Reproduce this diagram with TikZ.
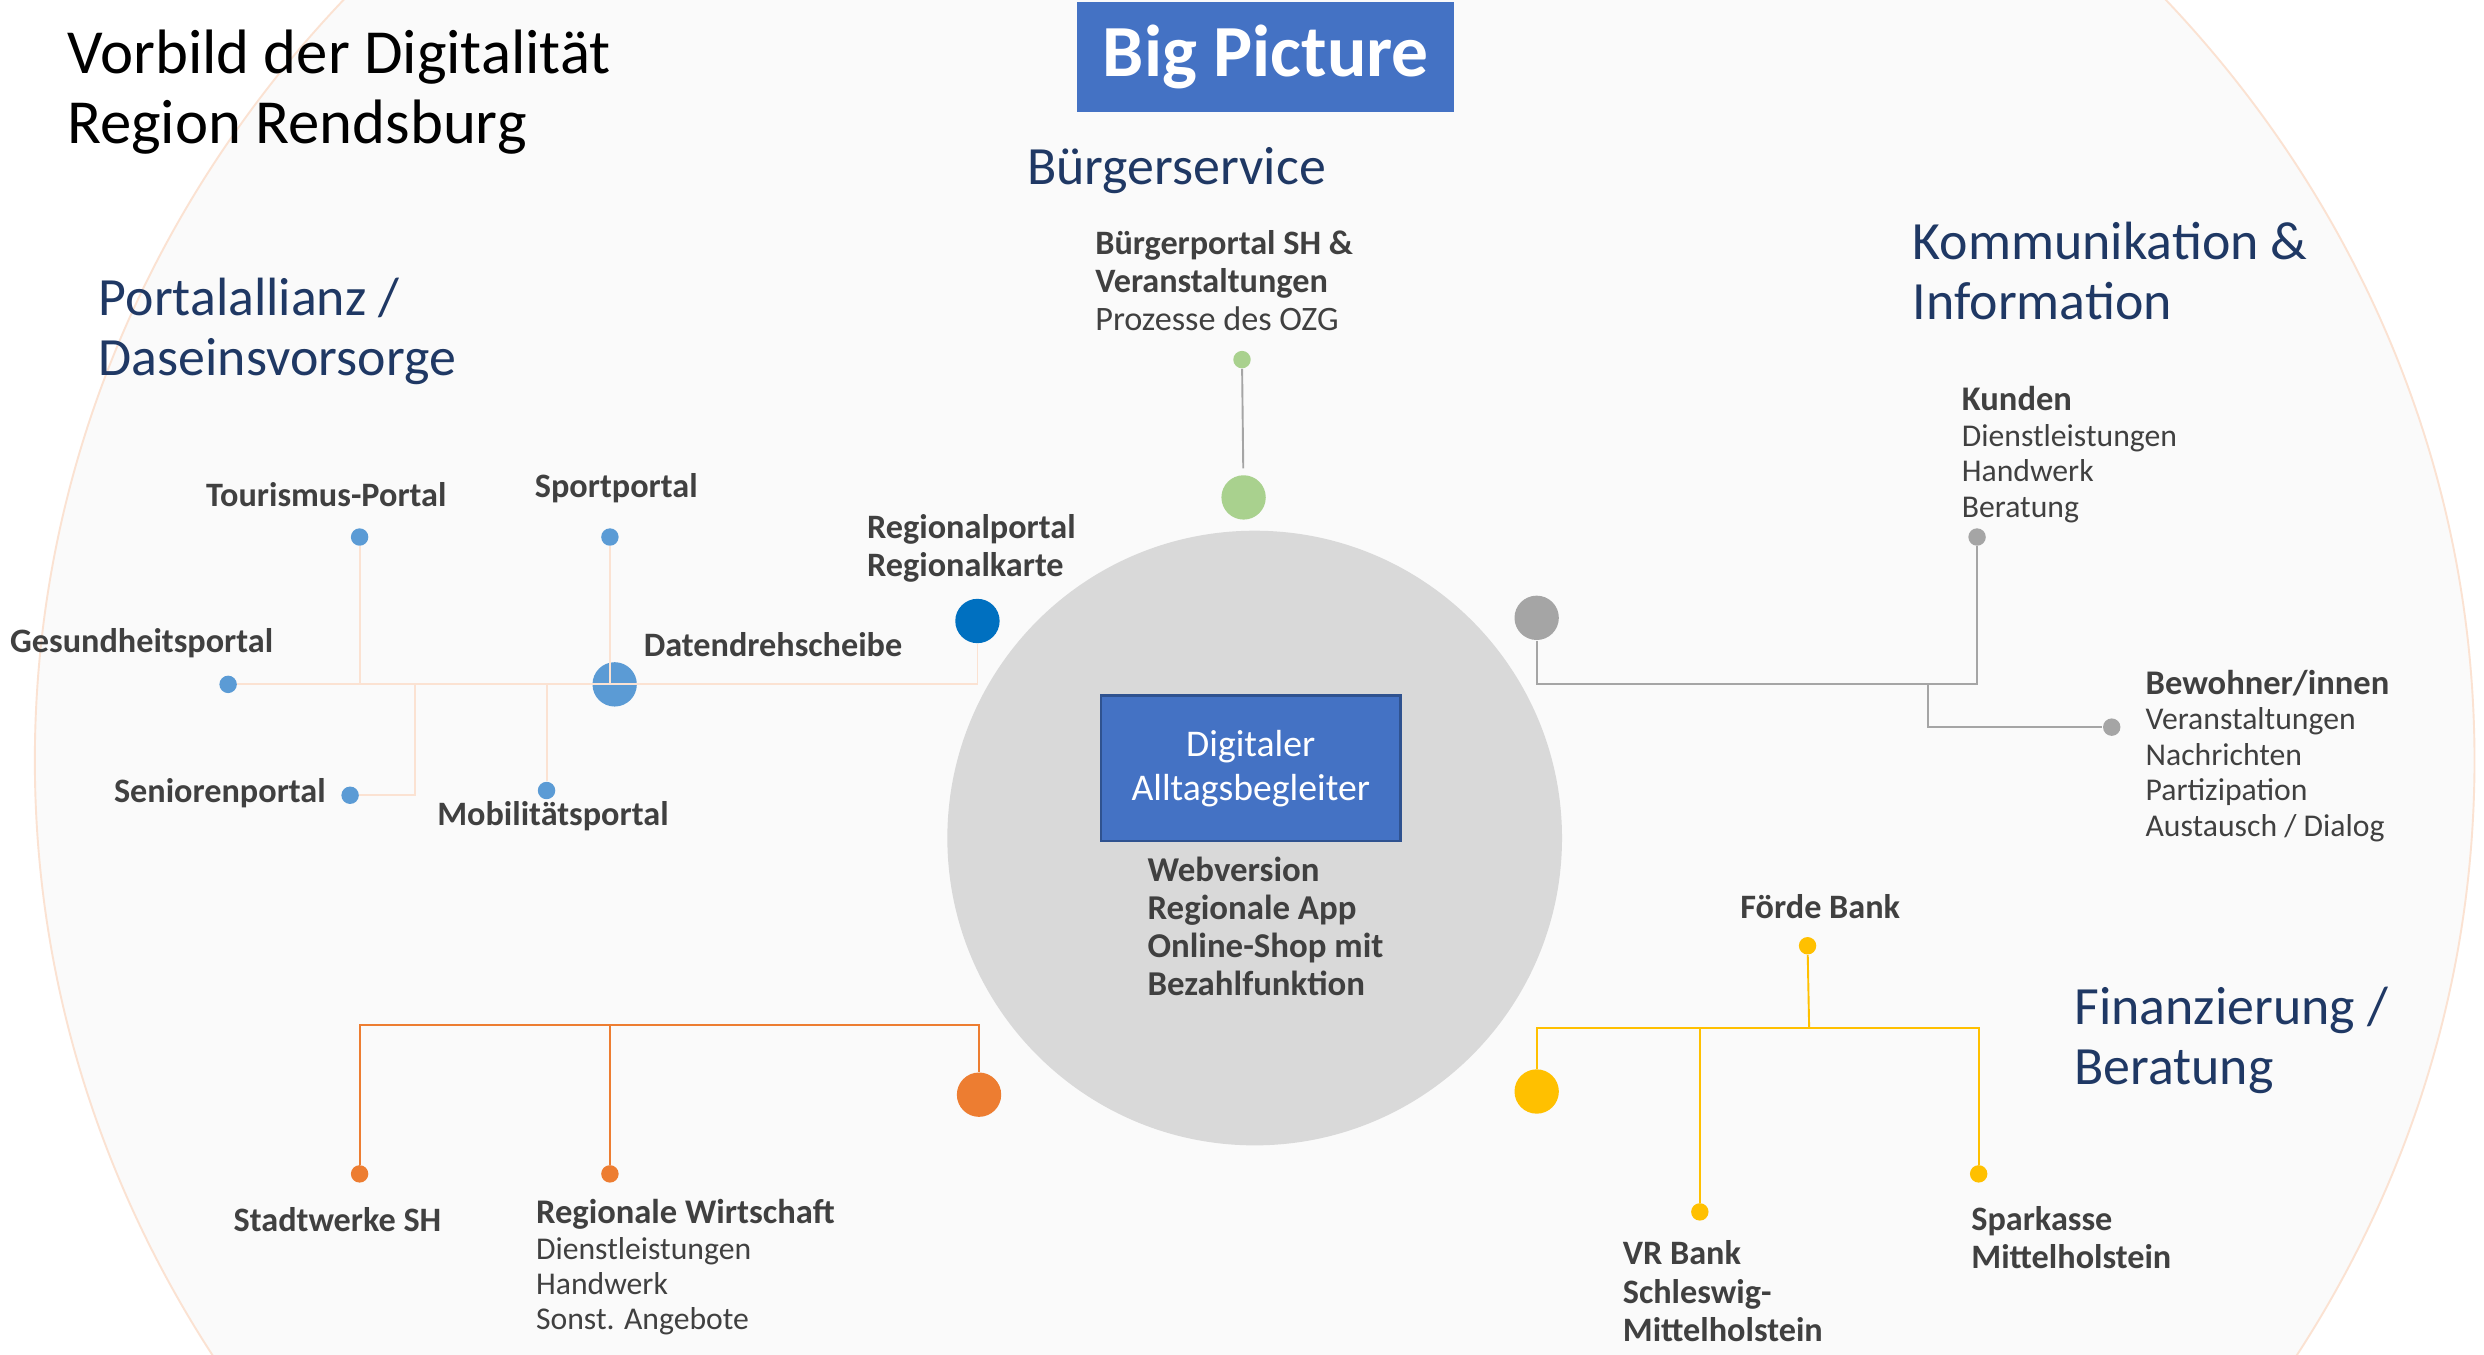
\documentclass[tikz,border=0pt]{standalone}
\usepackage{fontspec}
\setmainfont{Carlito}
\usetikzlibrary{positioning}

\definecolor{navy}{HTML}{1F3864}
\definecolor{txt}{HTML}{404040}
\definecolor{boxblue}{HTML}{4472C4}
\definecolor{boxedge}{HTML}{2F528F}
\definecolor{ptblue}{HTML}{5B9BD5}
\definecolor{regblue}{HTML}{0070C0}
\definecolor{bgreen}{HTML}{A9D18E}
\definecolor{kgray}{HTML}{A5A5A5}
\definecolor{fyellow}{HTML}{FFC000}
\definecolor{worange}{HTML}{ED7D31}
\definecolor{peach}{HTML}{FBE2D2}
\definecolor{corefill}{HTML}{D9D9D9}
\definecolor{bgfill}{HTML}{FAFAFA}

\newcommand{\itemhead}[1]{{\fontsize{10.9}{11.2}\selectfont\bfseries #1}}

\begin{document}
\begin{tikzpicture}[%
    x=0.5pt, y=-0.5pt,
    dot/.style={circle, fill=#1, inner sep=0pt, minimum size=5.5pt},
    bigdot/.style={circle, fill=#1, inner sep=0pt, minimum size=14pt},
    head/.style={font=\fontsize{17}{19}\selectfont, text=navy, align=left, inner sep=0pt, anchor=west},
    lab/.style={font=\bfseries\fontsize{10.8}{12}\selectfont, text=txt, inner sep=0pt},
    items/.style={font=\fontsize{10}{11.2}\selectfont, text=txt, align=left, inner sep=0pt, anchor=west},
    link/.style={draw=#1, line width=0.6pt},
  ]
    \fill[white] (0,0) rectangle (1568,855);
    \clip (0,0) rectangle (1568,855);
    \useasboundingbox (0,0) rectangle (1568,855);

    % background
    \draw[fill=bgfill, draw=peach, line width=0.6pt] (792,480) ellipse [x radius=770, y radius=722];
    \node[circle, fill=corefill, inner sep=0pt, minimum size=194pt] (core) at (792,529) {};

    % title
    \node[anchor=west, inner sep=0pt, align=left, font=\fontsize{19.8}{22}\selectfont] (title) at (42,58)
      {Vorbild der Digitalität\\Region Rendsburg};
    \node[fill=boxblue, text=white, font=\bfseries\fontsize{23.2}{26}\selectfont,
      minimum width=119pt, minimum height=34.5pt, inner sep=0pt] (big) at (799,36) {Big Picture};

    % centre
    \node[fill=boxblue, draw=boxedge, line width=0.8pt, text=white, align=center,
      font=\fontsize{11.9}{14}\selectfont, minimum width=94.5pt, minimum height=46pt, inner sep=0pt]
      (alltag) at (789.5,485) {Digitaler\\Alltagsbegleiter};
    \node[lab, align=left, anchor=west, font=\bfseries\fontsize{11}{12}\selectfont] (web) at (724,585)
      {Webversion\\Regionale App\\Online-Shop mit\\Bezahlfunktion};

    % headings
    \node[head] (hbuerger) at (648,108) {Bürgerservice};
    \node[head] (hportal)  at (62,209)  {Portalallianz /\\Daseinsvorsorge};
    \node[head] (hkomm)    at (1207,171) {Kommunikation \&\\Information};
    \node[head] (hfin)     at (1309,657) {Finanzierung /\\Beratung};

    % Buergerservice
    \node[bigdot=bgreen] (bbig)   at (785,314) {};
    \node[dot=bgreen]    (bsmall) at (784,227) {};
    \node[items, font=\fontsize{10.8}{12}\selectfont] (bport) at (691,177)
      {\textbf{Bürgerportal SH \&}\\\textbf{Veranstaltungen}\\Prozesse des OZG};
    \path[link=kgray, shorten >=2pt] (bsmall) edge (bbig);

    % Portalallianz
    \node[bigdot=ptblue]  (hub)    at (388,432) {};
    \node[bigdot=regblue] (regio)  at (617,392) {};
    \node[dot=ptblue]     (tour)   at (227,339) {};
    \node[dot=ptblue]     (sport)  at (385,339) {};
    \node[dot=ptblue]     (gesund) at (144,432) {};
    \node[dot=ptblue]     (senior) at (221,502) {};
    \node[dot=ptblue]     (mobil)  at (345,499) {};
    \coordinate (sj) at (262,432);

    \node[lab] (ltour)   at (206,312) {Tourismus-Portal};
    \node[lab] (lsport)  at (389,308) {Sportportal};
    \node[lab, anchor=west] (lgesund) at (6,406) {Gesundheitsportal};
    \node[lab, anchor=east] (lsenior) at (206,501) {Seniorenportal};
    \node[lab] (lmobil)  at (349,515) {Mobilitätsportal};
    \node[lab, anchor=west] (lhub) at (406,407) {Datendrehscheibe};
    \node[lab, align=left, anchor=west] (lregio) at (547,346) {Regionalportal\\Regionalkarte};

    \draw[link=peach] (gesund) -- (regio |- gesund) -- (regio);
    \draw[link=peach] (tour) -- (tour |- hub);
    \draw[link=peach] (sport) -- (sport |- hub);
    \draw[link=peach] (senior) -| (sj);
    \draw[link=peach] (mobil) -- (mobil |- hub);

    % Kommunikation & Information
    \node[bigdot=kgray] (komm) at (970,390) {};
    \node[dot=kgray]    (kund) at (1248,339) {};
    \node[dot=kgray]    (bewo) at (1333,459) {};
    \coordinate (kj) at (1217,432);
    \node[items] (lkund) at (1238,287)
      {\itemhead{Kunden}\\Dienstleistungen\\Handwerk\\Beratung};
    \node[items] (lbewo) at (1354,477)
      {\itemhead{Bewohner/innen}\\Veranstaltungen\\Nachrichten\\Partizipation\\Austausch / Dialog};
    \draw[link=kgray] (komm) |- (kund |- kj) -- (kund);
    \draw[link=kgray] (kj) |- (bewo);

    % Finanzierung / Beratung
    \node[bigdot=fyellow] (fin)    at (970,689) {};
    \node[dot=fyellow]    (foerde) at (1141,597) {};
    \node[dot=fyellow]    (vr)     at (1073,765) {};
    \node[dot=fyellow]    (spark)  at (1249,741) {};
    \coordinate (fj) at (1142,649);
    \node[lab] (lfoerde) at (1149,572) {Förde Bank};
    \node[lab, align=left, anchor=west] (lvr) at (1024,815) {VR Bank\\Schleswig-\\Mittelholstein};
    \node[lab, align=left, anchor=west] (lspark) at (1244,781) {Sparkasse\\Mittelholstein};
    \draw[link=fyellow] (fin) |- (spark |- fj) -- (spark);
    \draw[link=fyellow] (fj) -- (foerde);
    \draw[link=fyellow] (vr |- fj) -- (vr);

    % Wirtschaft
    \node[bigdot=worange] (wirt)  at (618,691) {};
    \node[dot=worange]    (stadt) at (227,741) {};
    \node[dot=worange]    (regw)  at (385,741) {};
    \coordinate (oj) at (385,647);
    \node[lab] (lstadt) at (213,770) {Stadtwerke SH};
    \node[items] (lregw) at (338,800)
      {\itemhead{Regionale Wirtschaft}\\Dienstleistungen\\Handwerk\\Sonst. Angebote};
    \draw[link=worange] (wirt) |- (stadt |- oj) -- (stadt);
    \draw[link=worange] (oj) -- (regw);
  \end{tikzpicture}
\end{document}
